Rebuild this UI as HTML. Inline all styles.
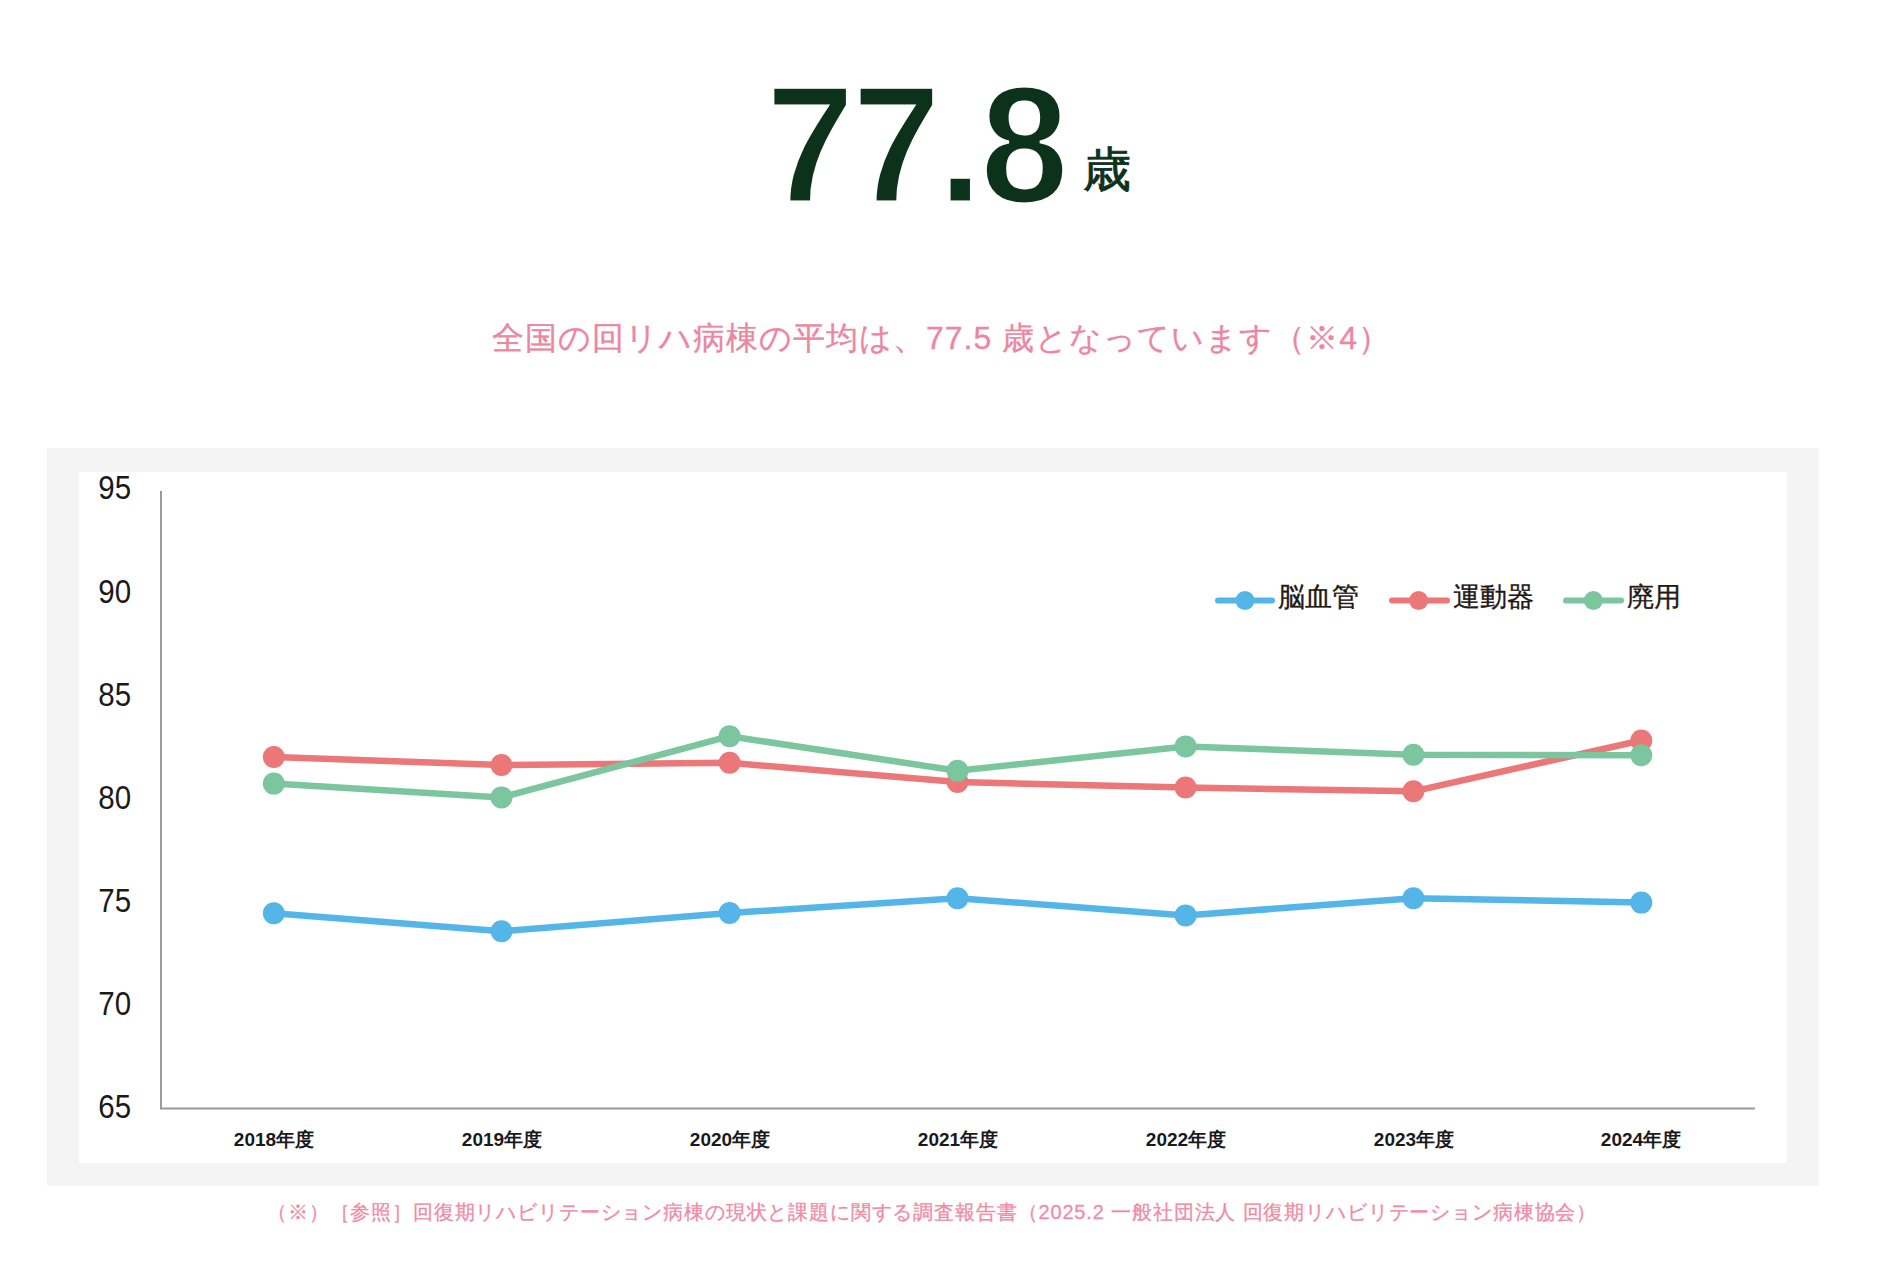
<!DOCTYPE html>
<html lang="ja">
<head>
<meta charset="utf-8">
<style>
html,body{margin:0;padding:0;background:#fff;}
body{width:1890px;height:1265px;position:relative;overflow:hidden;font-family:"Liberation Sans",sans-serif;}
.abs{position:absolute;white-space:nowrap;}
#big{left:0;top:0;width:1890px;height:260px;}
#num{left:766px;top:40px;letter-spacing:-2.3px;font-size:159px;font-weight:bold;color:#0c321c;line-height:200px;transform:scaleY(1.045);transform-origin:0 0;-webkit-text-stroke:3px #fff;}
#sai{left:1082.5px;top:140px;font-size:48px;font-weight:normal;-webkit-text-stroke:0.9px #0c321c;color:#0c321c;line-height:60px;}
#sub{left:492px;top:316px;font-size:32px;color:#eb87a1;line-height:44px;letter-spacing:1px;-webkit-text-stroke:0.35px #eb87a1;}
#box{left:47px;top:448px;width:1772px;height:737.5px;background:#f4f4f4;}
#inner{left:78.5px;top:471.8px;width:1708.5px;height:691px;background:#fff;}
#foot{left:267px;top:1197px;font-size:20px;color:#ef8ca5;line-height:30px;letter-spacing:0.85px;-webkit-text-stroke:0.3px #ef8ca5;}
svg{position:absolute;left:0;top:0;}
</style>
</head>
<body>
<div class="abs" id="num">77.8</div>
<div class="abs" id="sai">歳</div>
<div class="abs" id="sub">全国の回リハ病棟の平均は、77.5 歳となっています（※4）</div>
<div class="abs" id="box"></div>
<div class="abs" id="inner"></div>
<svg width="1890" height="1265" viewBox="0 0 1890 1265">
  <g fill="none" stroke="#9a9a9a" stroke-width="2">
    <polyline points="161,491 161,1108.5 1755,1108.5"/>
  </g>
  <g font-family="Liberation Sans, sans-serif" font-size="33.5" fill="#1a1a1a" text-anchor="end" transform="translate(131.5,0) scale(0.88,1) translate(-131.5,0)">
    <text x="131" y="499.5">95</text>
    <text x="131" y="602.7">90</text>
    <text x="131" y="705.7">85</text>
    <text x="131" y="808.7">80</text>
    <text x="131" y="911.7">75</text>
    <text x="131" y="1014.7">70</text>
    <text x="131" y="1118.2">65</text>
  </g>
  <g font-family="Liberation Sans, sans-serif" font-size="19" font-weight="bold" fill="#1a1a1a" text-anchor="middle">
    <text x="274" y="1146">2018年度</text>
    <text x="502" y="1146">2019年度</text>
    <text x="730" y="1146">2020年度</text>
    <text x="958" y="1146">2021年度</text>
    <text x="1186" y="1146">2022年度</text>
    <text x="1414" y="1146">2023年度</text>
    <text x="1641" y="1146">2024年度</text>
  </g>
  <g stroke-width="6.5" fill="none" stroke-linejoin="round" stroke-linecap="round">
    <polyline stroke="#54b5e8" points="273.8,913.2 501.5,931.2 729.6,913 957.5,898.2 1185.6,915.4 1413.4,898.2 1641.3,902.6"/>
    <g fill="#54b5e8"><circle cx="273.8" cy="913.2" r="11"/><circle cx="501.5" cy="931.2" r="11"/><circle cx="729.6" cy="913" r="11"/><circle cx="957.5" cy="898.2" r="11"/><circle cx="1185.6" cy="915.4" r="11"/><circle cx="1413.4" cy="898.2" r="11"/><circle cx="1641.3" cy="902.6" r="11"/></g>
    <polyline stroke="#ec7779" points="273.8,757 501.5,765 729.6,762.8 957.5,782 1185.6,787.5 1413.4,791.3 1641.3,740.5"/>
    <g fill="#ec7779"><circle cx="273.8" cy="757" r="11"/><circle cx="501.5" cy="765" r="11"/><circle cx="729.6" cy="762.8" r="11"/><circle cx="957.5" cy="782" r="11"/><circle cx="1185.6" cy="787.5" r="11"/><circle cx="1413.4" cy="791.3" r="11"/><circle cx="1641.3" cy="740.5" r="11"/></g>
    <polyline stroke="#7bc69e" points="273.8,783.6 501.5,797.4 729.6,736.2 957.5,770.8 1185.6,746.4 1413.4,754.7 1641.3,755.3"/>
    <g fill="#7bc69e"><circle cx="273.8" cy="783.6" r="11"/><circle cx="501.5" cy="797.4" r="11"/><circle cx="729.6" cy="736.2" r="11"/><circle cx="957.5" cy="770.8" r="11"/><circle cx="1185.6" cy="746.4" r="11"/><circle cx="1413.4" cy="754.7" r="11"/><circle cx="1641.3" cy="755.3" r="11"/></g>
  </g>
  <g stroke-width="6" stroke-linecap="round">
    <line x1="1218" y1="600.5" x2="1272" y2="600.5" stroke="#54b5e8"/>
    <circle cx="1245" cy="600.5" r="9.5" fill="#54b5e8"/>
    <line x1="1392" y1="600.5" x2="1447" y2="600.5" stroke="#ec7779"/>
    <circle cx="1418.6" cy="600.5" r="9.5" fill="#ec7779"/>
    <line x1="1566" y1="600.5" x2="1621" y2="600.5" stroke="#7bc69e"/>
    <circle cx="1593.4" cy="600.5" r="9.5" fill="#7bc69e"/>
  </g>
  <g font-family="Liberation Sans, sans-serif" font-size="27" fill="#231815" stroke="#231815" stroke-width="0.35">
    <text x="1278" y="606">脳血管</text>
    <text x="1453" y="606">運動器</text>
    <text x="1627" y="606">廃用</text>
  </g>
</svg>
<div class="abs" id="foot">（※）［参照］回復期リハビリテーション病棟の現状と課題に関する調査報告書（2025.2 一般社団法人 回復期リハビリテーション病棟協会）</div>
</body>
</html>
